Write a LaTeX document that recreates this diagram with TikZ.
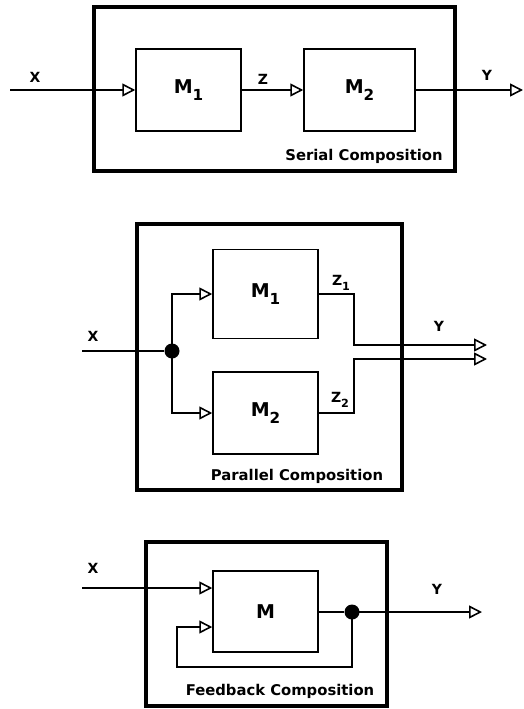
\documentclass[tikz,border=0pt]{standalone}
\usepackage{fontspec}
\setmainfont{DejaVu Sans}
\usetikzlibrary{arrows.meta}
\newcommand{\lowsub}[1]{\raisebox{-0.35em}{\scalebox{0.8}{#1}}}
\tikzset{
  frame/.style={draw, line width=4pt, inner sep=0pt},
  modbox/.style={draw, line width=1.5pt, inner sep=0pt, font=\bfseries\fontsize{19}{19}\selectfont},
  conn/.style={line width=1.5pt},
  arr/.style={conn, -{Triangle[open, length=13pt, width=13pt, line width=1.6pt]}},
  sig/.style={font=\bfseries\fontsize{14}{14}\selectfont, inner sep=0pt},
  captext/.style={font=\bfseries\fontsize{14.8}{15}\selectfont, inner sep=0pt},
  dot/.style={circle, fill, inner sep=0pt, minimum size=15pt},
}
\begin{document}
\begin{tikzpicture}[x=1pt, y=-1pt]
\useasboundingbox (0,0) rectangle (524,709);
% ---------- Serial ----------
\node[frame, minimum width=361pt, minimum height=164pt] (s) at (274.5,89) {};
\node[modbox, minimum width=105pt, minimum height=82pt] (sm1) at (188.5,90) {M\lowsub{1}};
\node[modbox, minimum width=111pt, minimum height=82pt] (sm2) at (359.5,90) {M\lowsub{2}};
\coordinate (sx) at (10,90);
\coordinate (sy) at (523,90);
\draw[arr] (sx) -- (sm1.west);
\draw[arr] (sm1.east) -- (sm2.west);
\draw[arr] (sm2.east) -- (sy);
\node[sig] (sxl) at (35,77) {X};
\node[sig] (szl) at (263,79) {Z};
\node[sig] (syl) at (487,75) {Y};
\node[captext] (scap) at (364,156) {Serial Composition};
% ---------- Parallel ----------
\node[frame, minimum width=265pt, minimum height=266pt] (p) at (269.5,357) {};
\node[modbox, minimum width=105pt, minimum height=89pt] (pm1) at (265.5,294) {M\lowsub{1}};
\node[modbox, minimum width=105pt, minimum height=82pt] (pm2) at (265.5,413) {M\lowsub{2}};
\node[dot] (pd) at (172,351) {};
\coordinate (px) at (82,351);
\coordinate (py1) at (487,345);
\coordinate (py2) at (487,359);
\coordinate (pk1) at (354,345);
\coordinate (pk2) at (354,359);
\draw[conn] (px) -- (pd);
\draw[arr] (pd.center) |- (pm1.west);
\draw[arr] (pd.center) |- (pm2.west);
\draw[arr] (pm1.east) -| (pk1) -- (py1);
\draw[arr] (pm2.east) -| (pk2) -- (py2);
\node[sig] (pxl) at (93,336) {X};
\node[sig] (pz1) at (341,283) {Z\lowsub{1}};
\node[sig] (pz2) at (340,400) {Z\lowsub{2}};
\node[sig] (pyl) at (439,326) {Y};
\node[captext] (pcap) at (297,476) {Parallel Composition};
% ---------- Feedback ----------
\node[frame, minimum width=241pt, minimum height=164pt] (f) at (266.5,624) {};
\node[modbox, minimum width=105pt, minimum height=81pt] (fm) at (265.5,611.5) {M};
\node[dot] (fd) at (352,612) {};
\coordinate (fx) at (82,588);
\coordinate (fy) at (482,612);
\coordinate (fb1) at (352,667);
\coordinate (fb2) at (177,667);
\coordinate (fb3) at (177,627);
\draw[arr] (fx) -- (fx -| fm.west);
\draw[conn] (fm.east |- fd) -- (fd);
\draw[arr] (fd.center) -- (fy);
\draw[arr] (fd.center) -- (fb1) -- (fb2) -- (fb3) -- (fb3 -| fm.west);
\node[sig] (fxl) at (93,568) {X};
\node[sig] (fyl) at (437,589) {Y};
\node[captext] (fcap) at (280,691) {Feedback Composition};
\end{tikzpicture}
\end{document}
